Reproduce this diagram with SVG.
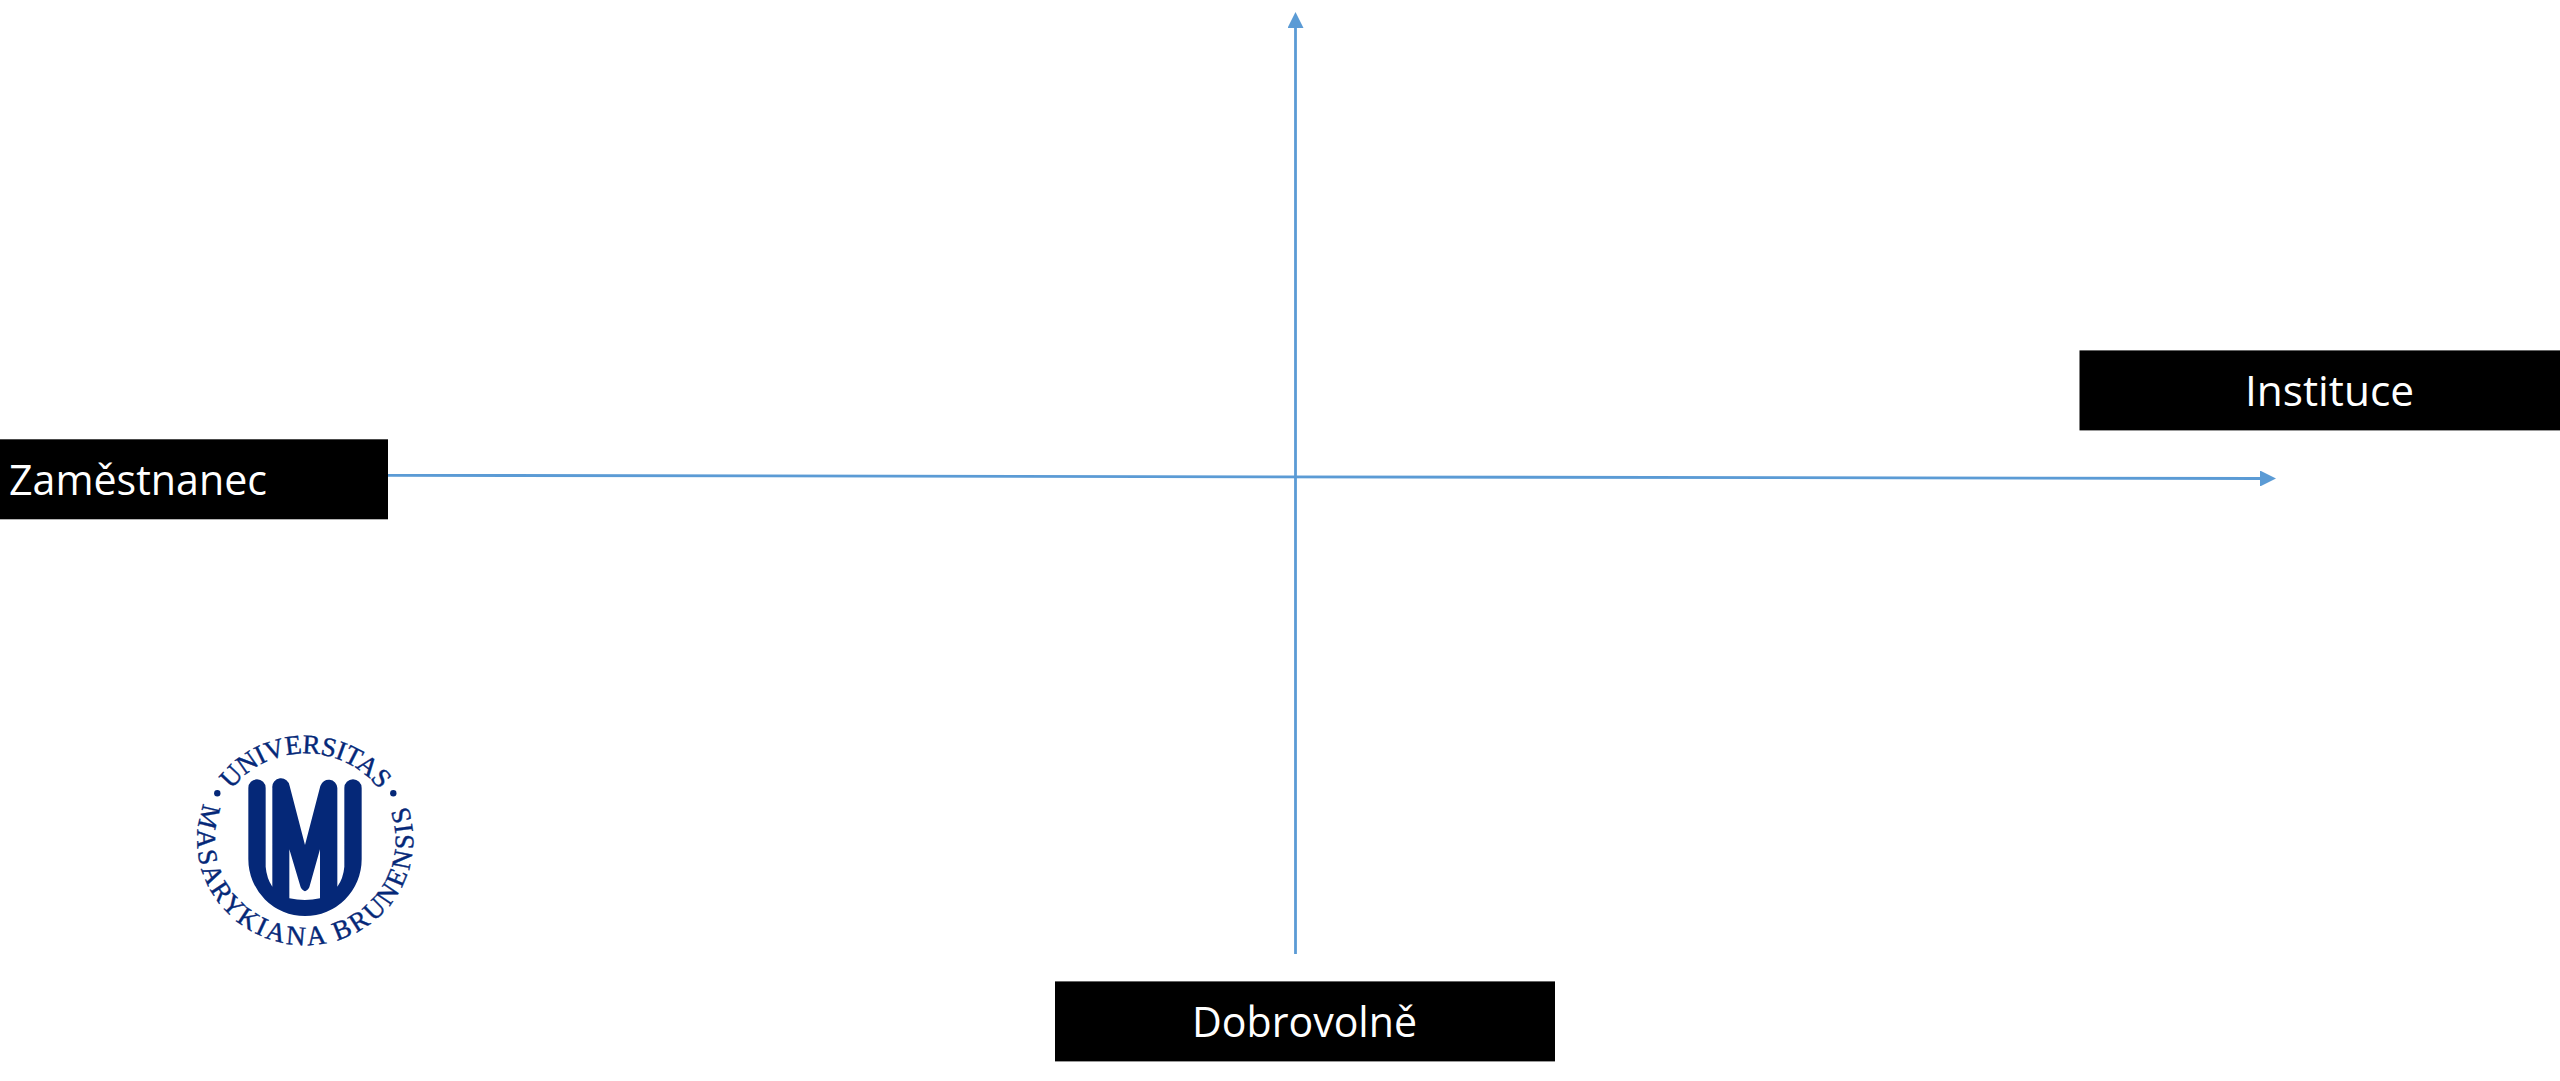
<svg xmlns="http://www.w3.org/2000/svg" width="2560" height="1081" viewBox="0 0 2560 1081">
  <style>
    .box { fill: #000; }
    .lbl { font-family: "Open Sans", "Lato", sans-serif; font-weight: 400; font-size: 42px; fill: #fff; }
    .axis { fill: none; stroke: #5B9BD5; stroke-width: 2.8; }
    .seal { font-family: "Liberation Serif", serif; font-size: 27px; fill: #052878; stroke: #052878; stroke-width: .4; }
  </style>
  <defs>
    <marker id="arrow" viewBox="0 0 16 16" refX="0" refY="8" markerUnits="userSpaceOnUse" markerWidth="16" markerHeight="16" orient="auto">
      <path d="M0 0L16 8L0 16Z" fill="#5B9BD5"/>
    </marker>
    <path id="sealTop" d="M225.3 799A91 87 0 0 1 385.3 799"/>
    <path id="sealBottom" d="M205.5 800A108 105 0 1 0 405.1 800"/>
  </defs>
  <rect width="2560" height="1081" fill="#fff"/>
  <g id="connectors">
    <path class="axis" d="M388 475.3L2260 478.5" marker-end="url(#arrow)"/>
    <path class="axis" d="M1295.5 954V28" marker-end="url(#arrow)"/>
  </g>
  <g id="node-zamestnanec">
    <rect class="box" x="0" y="439.3" width="388" height="80"/>
    <text class="lbl" x="9" y="495" textLength="258" lengthAdjust="spacingAndGlyphs">Zaměstnanec</text>
  </g>
  <g id="node-instituce">
    <rect class="box" x="2079.5" y="350.4" width="480.5" height="80"/>
    <text class="lbl" x="2245" y="406" textLength="169" lengthAdjust="spacingAndGlyphs">Instituce</text>
  </g>
  <g id="node-dobrovolne">
    <rect class="box" x="1055" y="981.4" width="500" height="80"/>
    <text class="lbl" x="1192" y="1037" textLength="225" lengthAdjust="spacingAndGlyphs">Dobrovolně</text>
  </g>
  <g id="logo">
    <path transform="translate(240 770) scale(.33333)" fill="#052878" fill-rule="evenodd" d="M25 54A26 26 0 0 1 77 54V290Q80 325 97 350V54A26 26 0 0 1 149 48L195 225L241 48A26 26 0 0 1 292 54V350Q310 325 313 290V54A26 26 0 0 1 365 54V268A170 170 0 0 1 25 268ZM148 238L182 352Q195 375 208 352L240 238V385Q195 395 148 385Z"/>
    <circle cx="217.3" cy="793.3" r="3.2" fill="#052878"/>
    <circle cx="393.3" cy="793.3" r="3.2" fill="#052878"/>
    <text class="seal" text-anchor="middle" letter-spacing="-0.4"><textPath href="#sealTop" startOffset="50%">UNIVERSITAS</textPath></text>
    <text class="seal" text-anchor="middle" letter-spacing="2.5"><textPath href="#sealBottom" startOffset="50%">MASARYKIANA BRUNENSIS</textPath></text>
  </g>
</svg>
